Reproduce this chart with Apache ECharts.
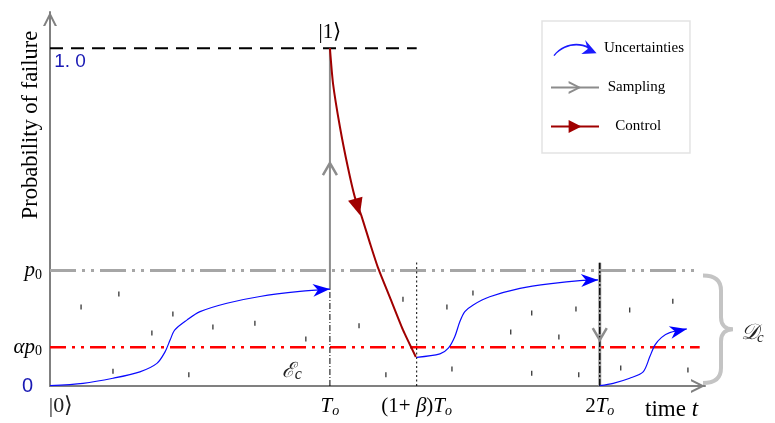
<!DOCTYPE html>
<html>
<head>
<meta charset="utf-8">
<script src="https://cdn.jsdelivr.net/npm/echarts@6/dist/echarts.min.js"></script>
<style>
html,body{margin:0;padding:0;background:#fff}
#main{width:775px;height:423px}
</style>
</head>
<body>
<div id="main"></div>
<script>
// probability levels
var oneLevel = 1.0;
var p0Level = 0.342;
var alphaP0Level = 0.115;

// time marks (units of T_o) and their labels, "_x" = subscript
var tTicks = [0, 1.0, 1.31, 1.964];
var tTickLabels = ['|0⟩', 'T_o', '(1+ β)T_o', '2T_o'];
var yTicks = [0, alphaP0Level, p0Level];
var yTickLabels = ['0', 'αp_0', 'p_0'];

// uncertainty drift curves [t, p]
var drift1 = [[0,0.001],[0.118,0.008],[0.225,0.023],[0.321,0.042],[0.382,0.067],[0.411,0.101],[0.429,0.136],[0.446,0.166],[0.489,0.195],[0.536,0.220],[0.632,0.245],[0.750,0.265],[0.893,0.280],[1.0,0.287]];
var drift2 = [[1.310,0.085],[1.393,0.095],[1.423,0.112],[1.446,0.146],[1.464,0.190],[1.482,0.220],[1.512,0.240],[1.571,0.264],[1.679,0.289],[1.798,0.304],[1.893,0.312],[1.958,0.314]];
var drift3 = [[1.964,0.001],[2.012,0.008],[2.071,0.023],[2.119,0.042],[2.143,0.087],[2.161,0.121],[2.185,0.144],[2.214,0.158],[2.275,0.169]];

// control decay after sampling
var control = [[1.0,1.0],[1.011,0.896],[1.036,0.766],[1.064,0.648],[1.089,0.559],[1.114,0.500],[1.143,0.423],[1.171,0.352],[1.214,0.263],[1.261,0.166],[1.307,0.086]];
var controlArrow = [1.089, 0.559, 1.107, 0.506];

// sampling events: vertical segments and arrows [tail t, tail p, tip t, tip p]
var samplingAt1 = [[1.0,0.287],[1.0,1.0]];
var errorAt1 = [[1.0,0],[1.0,0.287]];
var betaMark = [[1.31,0],[1.31,0.367]];
var samplingAt2 = [[1.964,0],[1.964,0.365]];
var samplingArrows = [[1.0,0.52,1.0,0.660],[1.964,0.28,1.964,0.136]];

// level lines
var oneLine = [[0,oneLevel],[1.31,oneLevel]];
var p0Line = [[0,p0Level],[2.304,p0Level]];
var alphaLine = [[0,alphaP0Level],[2.321,alphaP0Level]];

// scattered noise ticks
var noise = [[0.246,0.272],[0.111,0.234],[0.439,0.213],[0.364,0.157],[0.582,0.175],[0.732,0.186],[0.914,0.139],[1.104,0.178],[0.225,0.044],[0.496,0.033],[1.200,0.033],[1.261,0.257],[1.511,0.275],[1.418,0.234],[1.721,0.216],[1.879,0.228],[2.071,0.225],[2.225,0.251],[1.646,0.160],[1.818,0.145],[1.436,0.050],[1.721,0.038],[1.889,0.033],[2.039,0.053],[2.279,0.047]];

var xMax = 2.34, yMax = 1.107;
var serif = 'Liberation Serif';
var axisArrow = 'path://M0,10 L5,0 L10,10 L8.4,10 L5,3.2 L1.6,10 Z';
var chevron = 'path://M0,0 L10,5 L0,10 L0,8.4 L6.8,5 L0,1.6 Z';
var triangle = 'path://M0,0 L10,5 L0,10 Z';
var curvedArrow = 'path://M0,13 C8,3 20,2 28,6.5 L27.6,7.8 C20,3.6 8.5,4.6 0.9,13.6 Z M25,1 L34,11.5 L22,12 L27,8 Z';

// turn "T_o" into rich text: italic letters, upright digits/signs, small subscripts
function toRich(s) {
  var out = '';
  for (var i = 0; i < s.length; i++) {
    var ch = s[i];
    if (ch === '_') { out += '{sub|' + s[i + 1] + '}'; i++; continue; }
    out += /[A-Za-zα-ω]/.test(ch) ? '{it|' + ch + '}' : '{rm|' + ch + '}';
  }
  return out;
}
function richStyles(size, subDrop, subItalic) {
  return {
    it: {fontFamily: serif, fontStyle: 'italic', fontSize: size, color: '#000'},
    rm: {fontFamily: serif, fontSize: size, color: '#000'},
    sub: {fontFamily: serif, fontStyle: subItalic ? 'italic' : 'normal', fontSize: Math.round(size * 0.68),
      color: '#000', padding: [subDrop, 0, 0, 0]}
  };
}

var blueArrows = [drift1, drift2, drift3].map(function (c) {
  var a = c[c.length - 2], b = c[c.length - 1];
  return [a[0], a[1], b[0], b[1]];
});

function arrowSeries(data, kind) {
  return {
    type: 'custom', silent: true, clip: false, z: 5, data: data,
    renderItem: function (params, api) {
      var tail = api.coord([api.value(0), api.value(1)]);
      var tip = api.coord([api.value(2), api.value(3)]);
      var rot = -Math.atan2(tip[1] - tail[1], tip[0] - tail[0]);
      var el;
      if (kind === 'blue') {
        el = {type: 'polygon', shape: {points: [[0,0],[-17,-6.5],[-12,0],[-17,6.5]]}, style: {fill: '#0000ff'}};
      } else if (kind === 'gray') {
        el = {type: 'polyline', shape: {points: [[-12,-7],[0,0],[-12,7]]}, style: {stroke: '#8c8c8c', lineWidth: 2.5, fill: null}};
      } else {
        el = {type: 'polygon', shape: {points: [[0,0],[-17,-7.5],[-17,7.5]]}, style: {fill: '#a00000'}};
      }
      el.x = tip[0]; el.y = tip[1]; el.rotation = rot;
      return el;
    }
  };
}

function seg(data, color, width, dash, extra) {
  var s = {type: 'line', data: data, symbol: 'none', silent: true, animation: false,
    itemStyle: {color: color}, lineStyle: {color: color, width: width, type: dash || 'solid'}};
  for (var k in extra) s[k] = extra[k];
  return s;
}
var labelled = {symbol: 'circle', symbolSize: 0, showSymbol: true, clip: false};

var chart = echarts.init(document.getElementById('main'));

var controlData = control.map(function (p, i) {
  if (i === 0) return {value: p, label: {show: true, position: 'top', distance: 5, formatter: '|1⟩',
    fontFamily: serif, fontSize: 21, color: '#000'}};
  return p;
});

var errorData = errorAt1.map(function (p, i) {
  if (i === 0) return {value: p, label: {show: true, position: 'inside', offset: [-38, -15],
    formatter: '{e|ℰ}{c|c}', rich: {e: {fontFamily: serif, fontStyle: 'italic', fontSize: 21, color: '#222'},
      c: {fontFamily: serif, fontStyle: 'italic', fontSize: 16, color: '#222', padding: [7, 0, 0, 0]}}}};
  return p;
});

var oneData = oneLine.map(function (p, i) {
  if (i === 0) return {value: p, label: {show: true, position: 'bottom', distance: 4, offset: [20, 0],
    formatter: '1. 0', fontFamily: 'Liberation Sans', fontSize: 19, color: '#1a1ab4'}};
  return p;
});

var option = {
  animation: false,
  grid: {left: 50, right: 70, top: 12, bottom: 37, containLabel: false, outerBoundsMode: 'none'},
  legend: {
    orient: 'vertical', left: 542, top: 21, padding: [19, 6, 19, 8], itemGap: 24,
    itemWidth: 48, itemHeight: 16, borderColor: '#e3e3e3', borderWidth: 1.5, selectedMode: false,
    textStyle: {fontFamily: serif, fontSize: 15, color: '#000'},
    formatter: function (n) { return n === 'Control' ? '   ' + n : n === 'Sampling' ? ' ' + n : n; },
    data: [
      {name: 'Uncertainties', icon: curvedArrow, itemStyle: {color: '#1a1aff', borderWidth: 0}},
      {name: 'Sampling'},
      {name: 'Control'}
    ]
  },
  xAxis: {
    type: 'value', min: 0, max: xMax,
    splitLine: {show: false}, axisTick: {show: false},
    axisLine: {onZero: false, lineStyle: {color: '#808080', width: 2},
      symbol: ['none', axisArrow], symbolSize: [14, 16], symbolOffset: [0, -7]},
    axisLabel: {
      customValues: tTicks, margin: 9,
      formatter: function (v) {
        var i = tTicks.indexOf(v);
        if (i === 0) return '{k|' + tTickLabels[0] + '}';
        return toRich(tTickLabels[i]);
      },
      rich: Object.assign({k: {fontFamily: serif, fontSize: 22, color: '#222', padding: [0, 0, 0, 22]}},
        richStyles(21, 9, true))
    },
    name: '{a|time }{b|t}', nameLocation: 'end', nameGap: -60, nameMoveOverlap: false,
    nameTextStyle: {verticalAlign: 'top', padding: [12, 0, 0, 0],
      rich: {a: {fontFamily: serif, fontSize: 23, color: '#000'},
        b: {fontFamily: serif, fontStyle: 'italic', fontSize: 23, color: '#000'}}}
  },
  yAxis: {
    type: 'value', min: 0, max: yMax,
    splitLine: {show: false}, axisTick: {show: false},
    axisLine: {show: true, onZero: false, lineStyle: {color: '#808080', width: 2},
      symbol: ['none', axisArrow], symbolSize: [14, 16], symbolOffset: [0, -7]},
    axisLabel: {
      customValues: yTicks, margin: 8,
      formatter: function (v) {
        var i = yTicks.indexOf(v);
        return i === 0 ? '{z|0}' : toRich(yTickLabels[i]);
      },
      rich: Object.assign({z: {fontFamily: 'Liberation Sans', fontSize: 20, color: '#1a1ab4', padding: [0, 9, 0, 0]}},
        richStyles(21, 9, false))
    },
    name: 'Probability of failure', nameLocation: 'middle', nameGap: 7, nameMoveOverlap: false,
    nameTextStyle: {fontFamily: serif, fontSize: 22.5, color: '#000', padding: [0, 0, 0, 148]}
  },
  series: [
    seg(oneData, '#000', 2, [13, 8], labelled),
    seg(p0Line, '#a6a6a6', 3, [26, 6, 3, 6, 3, 6]),
    seg(alphaLine, '#ff0000', 2.5, [16, 6, 3, 6, 3, 6]),
    seg(errorData, '#000', 1, [6, 2, 1, 2], labelled),
    seg(betaMark, '#000', 1, [2, 2.5]),
    seg(samplingAt1, '#8c8c8c', 2, null, {name: 'Sampling', symbol: chevron, showSymbol: false}),
    seg(samplingAt2, '#9a9a9a', 3, null, {name: 'Sampling', showSymbol: false}),
    seg(samplingAt2, '#111', 1.5, [7, 2, 2, 2]),
    seg(drift1, '#0a0aff', 1.2, null, {name: 'Uncertainties', smooth: 0.3, showSymbol: false}),
    seg(drift2, '#0a0aff', 1.2, null, {name: 'Uncertainties', smooth: 0.3, showSymbol: false}),
    seg(drift3, '#0a0aff', 1.2, null, {name: 'Uncertainties', smooth: 0.3, showSymbol: false}),
    seg(controlData, '#a00000', 2, null, {name: 'Control', symbol: triangle, symbolSize: 0, showSymbol: true,
      clip: false, smooth: 0.2}),
    {type: 'scatter', data: noise, symbol: 'rect', symbolSize: [1.3, 5], silent: true,
      itemStyle: {color: '#000'}},
    arrowSeries(blueArrows, 'blue'),
    arrowSeries(samplingArrows, 'gray'),
    arrowSeries([controlArrow], 'red'),
    {
      type: 'custom', silent: true, clip: false, data: [[xMax, 0, p0Level]],
      renderItem: function (params, api) {
        var top = api.coord([api.value(0), api.value(2)]);
        var bot = api.coord([api.value(0), api.value(1)]);
        var x0 = top[0] - 2, y0 = top[1] + 5, y1 = bot[1] - 3, ym = (y0 + y1) / 2;
        var w = 18, tip = 30;
        var d = 'M' + x0 + ',' + y0 +
          ' C' + (x0 + 12) + ',' + y0 + ' ' + (x0 + w) + ',' + (y0 + 5) + ' ' + (x0 + w) + ',' + (y0 + 15) +
          ' L' + (x0 + w) + ',' + (ym - 12) +
          ' C' + (x0 + w) + ',' + (ym - 3) + ' ' + (x0 + 24) + ',' + ym + ' ' + (x0 + tip) + ',' + ym +
          ' C' + (x0 + 24) + ',' + ym + ' ' + (x0 + w) + ',' + (ym + 3) + ' ' + (x0 + w) + ',' + (ym + 12) +
          ' L' + (x0 + w) + ',' + (y1 - 15) +
          ' C' + (x0 + w) + ',' + (y1 - 5) + ' ' + (x0 + 12) + ',' + y1 + ' ' + x0 + ',' + y1;
        return {type: 'group', children: [
          {type: 'path', shape: {pathData: d}, style: {fill: null, stroke: '#c4c4c4', lineWidth: 4}},
          {type: 'text', x: x0 + tip + 8, y: ym + 4, style: {text: '𝒟', font: 'italic 22px "Liberation Serif"',
            fill: '#222', verticalAlign: 'middle'}},
          {type: 'text', x: x0 + tip + 24, y: ym + 9, style: {text: 'c', font: 'italic 15px "Liberation Serif"',
            fill: '#222', verticalAlign: 'middle'}}
        ]};
      }
    }
  ]
};
chart.setOption(option);
</script>
</body>
</html>
